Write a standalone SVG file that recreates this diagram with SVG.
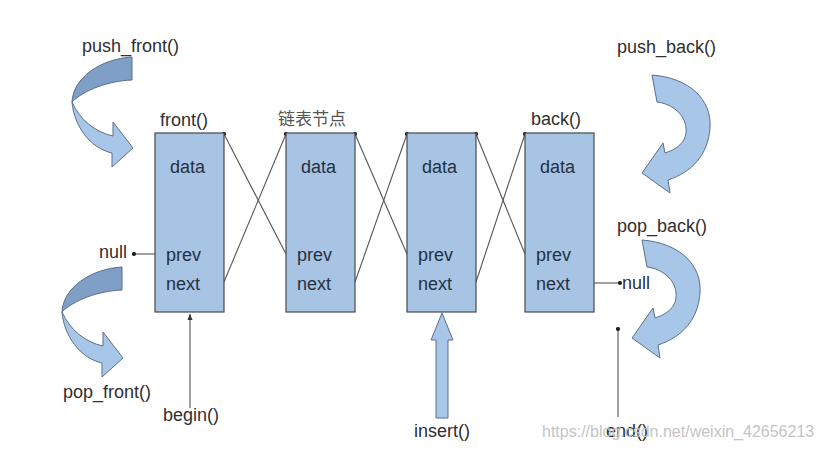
<svg xmlns="http://www.w3.org/2000/svg" width="822" height="451" viewBox="0 0 822 451">
<style>
.box{fill:#a7c4e5;stroke:#4a4a4a;stroke-width:1.2}
.t{font-family:"Liberation Sans",Arial,sans-serif;font-size:18px;fill:#263040}
.lb{font-family:"Liberation Sans",Arial,sans-serif;font-size:18px;fill:#2f2f2f}
.cn{font-size:17px;fill:#555}
.ln{stroke:#555;stroke-width:1.1;fill:none}
.lt{fill:#a8c6e8;stroke:#5a6f8a;stroke-width:1}
.dk{fill:#7f9fc6;stroke:#5a6f8a;stroke-width:1}
.wm{font-family:"Liberation Sans",Arial,sans-serif;font-size:16px;fill:#c4c4c4}
</style>
<defs>
<marker id="dot" viewBox="0 0 6 6" refX="3" refY="3" markerWidth="5" markerHeight="5" markerUnits="userSpaceOnUse"><circle cx="3" cy="3" r="2.5" fill="#222"/></marker>
<marker id="arr" viewBox="0 0 8 8" refX="7" refY="4" markerWidth="7" markerHeight="7" markerUnits="userSpaceOnUse" orient="auto"><path d="M0,1 L7,4 L0,7 Z" fill="#333"/></marker>
<g id="twist">
<path class="dk" d="M132,57 C100,59 73,78 72,102 C84,90 108,81 132,80 Z"/>
<path class="lt" d="M72,102 C74,126 90,148 112,153 L112,167 L133,148 L113,122 L113,136 C95,132 80,120 72,102 Z"/>
</g>
<path id="curl" class="lt" d="M652,75 C690,78 712,100 710,128 C708,155 692,172 668,180 L670,193 L642,173 L663,143 L665,153 C680,148 687,140 686,128 C685,115 673,104 657,102 Z"/>
</defs>

<g id="connectors">
<line class="ln" x1="224" y1="282" x2="286" y2="134" marker-end="url(#dot)"/>
<line class="ln" x1="286" y1="254" x2="224" y2="134" marker-end="url(#dot)"/>
<line class="ln" x1="355" y1="282" x2="407" y2="134" marker-end="url(#dot)"/>
<line class="ln" x1="407" y1="254" x2="355" y2="134" marker-end="url(#dot)"/>
<line class="ln" x1="476" y1="282" x2="525" y2="134" marker-end="url(#dot)"/>
<line class="ln" x1="525" y1="254" x2="476" y2="134" marker-end="url(#dot)"/>
<line class="ln" x1="155" y1="254" x2="134" y2="254" marker-end="url(#dot)"/>
<line class="ln" x1="594" y1="283" x2="620" y2="283" marker-end="url(#dot)"/>
<line class="ln" x1="190" y1="408" x2="190" y2="314" marker-end="url(#arr)"/>
<line class="ln" x1="618" y1="417" x2="618" y2="329" marker-end="url(#dot)"/>
</g>

<g id="node1">
<rect class="box" x="155" y="133" width="69" height="179"/>
<text class="t" x="170" y="173">data</text>
<text class="t" x="166" y="261">prev</text>
<text class="t" x="166" y="290">next</text>
</g>
<g id="node2">
<rect class="box" x="286" y="133" width="69" height="179"/>
<text class="t" x="301" y="173">data</text>
<text class="t" x="297" y="261">prev</text>
<text class="t" x="297" y="290">next</text>
</g>
<g id="node3">
<rect class="box" x="407" y="133" width="69" height="179"/>
<text class="t" x="422" y="173">data</text>
<text class="t" x="418" y="261">prev</text>
<text class="t" x="418" y="290">next</text>
</g>
<g id="node4">
<rect class="box" x="525" y="133" width="69" height="179"/>
<text class="t" x="540" y="173">data</text>
<text class="t" x="536" y="261">prev</text>
<text class="t" x="536" y="290">next</text>
</g>

<g id="push_front">
<use href="#twist"/>
<text class="lb" x="82" y="52">push_front()</text>
</g>
<g id="pop_front">
<use href="#twist" transform="translate(-10,210)"/>
<text class="lb" x="63" y="398">pop_front()</text>
</g>
<g id="push_back">
<use href="#curl"/>
<text class="lb" x="617" y="53">push_back()</text>
</g>
<g id="pop_back">
<use href="#curl" transform="translate(-10,165)"/>
<text class="lb" x="617" y="232">pop_back()</text>
</g>
<g id="insert">
<polygon class="lt" points="442,313 453,340 448,340 448,418 436,418 436,340 431,340"/>
<text class="lb" x="414" y="437">insert()</text>
</g>

<g id="labels">
<text class="lb" x="160" y="126">front()</text>
<text class="cn" x="278" y="125" style="font-family:'Noto Sans CJK SC',sans-serif">链表节点</text>
<text class="lb" x="531" y="125">back()</text>
<text class="lb" x="99" y="258">null</text>
<text class="lb" x="622" y="289">null</text>
<text class="lb" x="163" y="421">begin()</text>
<text class="lb" x="606" y="437">end()</text>
<text class="wm" x="542" y="437">https://blog.csdn.net/weixin_42656213</text>
</g>
</svg>
